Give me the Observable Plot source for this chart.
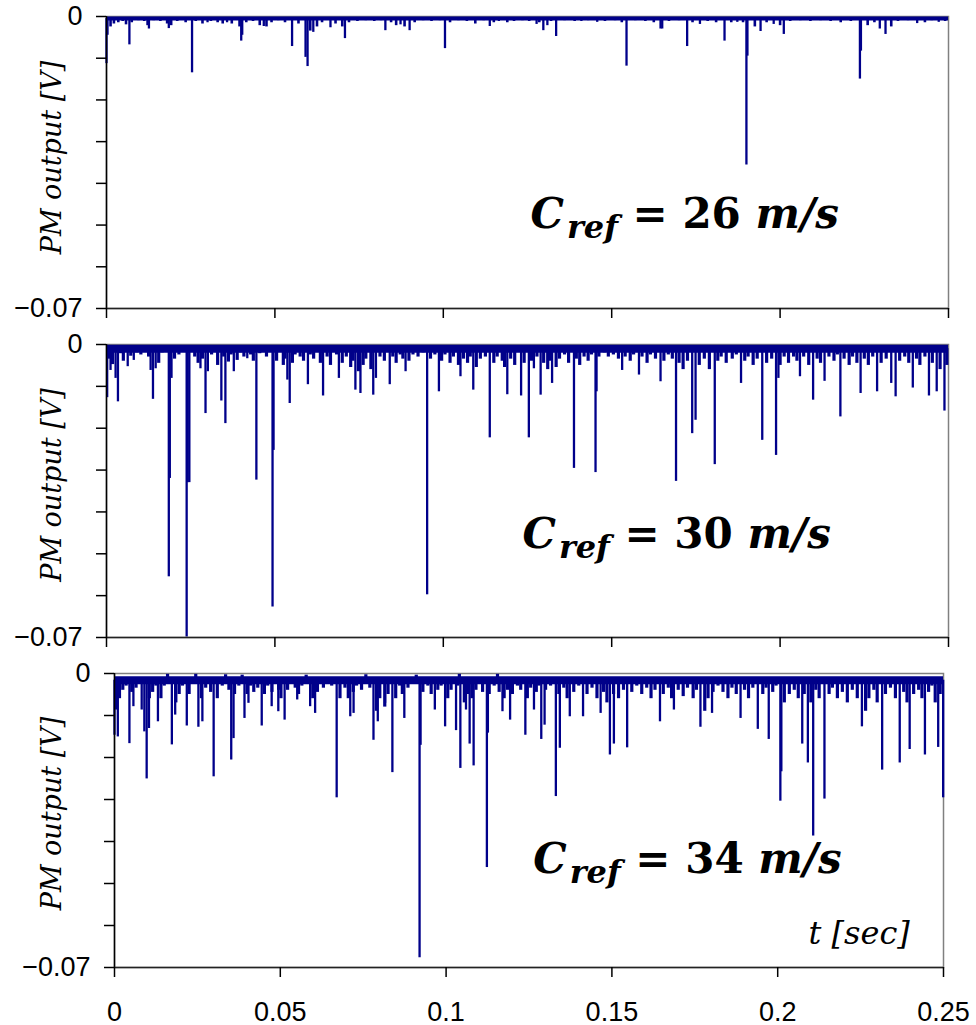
<!DOCTYPE html>
<html><head><meta charset="utf-8">
<script src="https://cdn.jsdelivr.net/npm/d3@7"></script>
<script src="https://cdn.jsdelivr.net/npm/@observablehq/plot@0.6"></script>
<style>
html,body{margin:0;padding:0;background:#fff;overflow:hidden;}
#wrap{position:relative;width:976px;height:1025px;}
#wrap > svg{position:absolute;left:0;overflow:visible;}
</style></head><body><div id="wrap"></div>
<script>
// ---------- data ----------
const xTicks = [0, 0.05, 0.1, 0.15, 0.2, 0.25];
const xTickLabels = ["0", "0.05", "0.1", "0.15", "0.2", "0.25"];
const yTicks = [0, -0.01, -0.02, -0.03, -0.04, -0.05, -0.06, -0.07];
const yTickLabels = ["0", "", "", "", "", "", "", "−0.07"];
const speeds = ["26", "30", "34"];
const yLabel = "PM output [V]";
const xLabel = "t [sec]";
const bandLevels = [-0.0005, -0.0010, -0.0016];
const annotAnchors = [{t: 0.1259, v: -0.0506}, {t: 0.1235, v: -0.0487}, {t: 0.1263, v: -0.0476}];
const xLabelAnchor = [{t: 0.2093, v: -0.0643}];

// C_ref = 26 m/s : [t, PM output]
const spikes26 = [
[0,-0.0113],[0.0003,-0.0045],[0.0068,-0.0068],[0.0126,-0.003],[0.0185,-0.0029],[0.0254,-0.0135],[0.030,-0.0015],[0.0358,-0.0015],
[0.0400,-0.0059],[0.0403,-0.0045],[0.0467,-0.0024],[0.0551,-0.0072],[0.0591,-0.0098],[0.0597,-0.012],[0.0614,-0.0038],[0.0665,-0.0027],
[0.0708,-0.0053],[0.0828,-0.0034],[0.0873,-0.002],[0.090,-0.0034],[0.1005,-0.0077],[0.1138,-0.0024],[0.1165,-0.0012],[0.1277,-0.0019],
[0.1297,-0.0034],[0.1309,-0.0022],[0.1335,-0.0048],[0.141,-0.0012],[0.1457,-0.0014],[0.1544,-0.0119],[0.1645,-0.003],[0.1650,-0.003],
[0.1724,-0.0072],[0.1762,-0.0019],[0.1835,-0.0059],[0.1873,-0.0014],[0.1900,-0.0356],[0.1903,-0.0095],[0.1942,-0.0036],[0.1981,-0.0019],
[0.2011,-0.0043],[0.2237,-0.015],[0.2240,-0.0083],[0.2296,-0.003],[0.2313,-0.0043],[0.2407,-0.0017],[0.2471,-0.0014]
];
const fuzz26 = [
[0.0012,-0.0025],[0.0022,-0.0018],[0.0035,-0.0015],[0.0048,-0.0012],[0.0058,-0.002],[0.0075,-0.0015],[0.0095,-0.001],[0.0112,-0.0012],
[0.0122,-0.0022],[0.0140,-0.001],[0.0160,-0.0012],[0.0180,-0.0018],[0.0192,-0.0022],[0.0210,-0.0012],[0.0235,-0.0015],[0.0265,-0.0012],
[0.0285,-0.0018],[0.0310,-0.0012],[0.0330,-0.0015],[0.0345,-0.0018],[0.0372,-0.0018],[0.0395,-0.0025],[0.0415,-0.0015],[0.0435,-0.0012],
[0.0455,-0.0022],[0.0475,-0.0025],[0.0490,-0.0015],[0.0510,-0.001],[0.0530,-0.0015],[0.0570,-0.0018],[0.0605,-0.0035],[0.0625,-0.0025],
[0.0640,-0.0015],[0.0680,-0.0018],[0.0700,-0.0025],[0.0720,-0.0015],[0.0745,-0.0012],[0.0770,-0.001],[0.0795,-0.0012],[0.0815,-0.001],
[0.0845,-0.0015],[0.0860,-0.0022],[0.0885,-0.0025],[0.0915,-0.0015],[0.0940,-0.001],[0.0965,-0.0012],[0.0990,-0.001],[0.1020,-0.0015],
[0.1045,-0.001],[0.1070,-0.0012],[0.1095,-0.0018],[0.1120,-0.001],[0.1150,-0.0015],[0.1190,-0.0015],[0.1210,-0.0012],[0.1235,-0.001],
[0.1255,-0.0012],[0.1285,-0.0015],[0.1320,-0.0012],[0.1360,-0.001],[0.1390,-0.0012],[0.1430,-0.001],[0.1480,-0.0012],[0.1510,-0.001],
[0.1530,-0.0015],[0.1570,-0.001],[0.1600,-0.0012],[0.1625,-0.0015],[0.1670,-0.0012],[0.1700,-0.001],[0.1740,-0.0015],[0.1785,-0.0012],
[0.1810,-0.0015],[0.1855,-0.0015],[0.1890,-0.0015],[0.1925,-0.0025],[0.1960,-0.0015],[0.2000,-0.0022],[0.2030,-0.0012],[0.2060,-0.001],
[0.2090,-0.0012],[0.2120,-0.001],[0.2150,-0.0012],[0.2180,-0.0015],[0.2210,-0.0012],[0.2260,-0.0022],[0.2280,-0.0015],[0.2330,-0.0025],
[0.2350,-0.0012],[0.2380,-0.001],[0.2430,-0.0015],[0.2450,-0.001],[0.2490,-0.0012]
];

// C_ref = 30 m/s
const spikes30 = [
[0.0002,-0.0127],[0.0012,-0.0062],[0.0027,-0.0081],[0.0034,-0.0137],[0.0063,-0.0053],[0.0081,-0.0038],[0.0131,-0.0062],[0.0138,-0.0131],
[0.0146,-0.0058],[0.0185,-0.0555],[0.0188,-0.0320],[0.0193,-0.0081],[0.0238,-0.0699],[0.0241,-0.0330],[0.0246,-0.0330],[0.0279,-0.0058],
[0.0294,-0.0165],[0.0301,-0.0065],[0.0341,-0.0135],[0.0353,-0.0189],[0.0378,-0.0065],[0.0418,-0.0034],[0.0445,-0.0324],[0.0493,-0.0627],
[0.0496,-0.0253],[0.0537,-0.0085],[0.0544,-0.0141],[0.0598,-0.0096],[0.0643,-0.0123],[0.0690,-0.0081],[0.0739,-0.0109],[0.0754,-0.0117],
[0.0792,-0.0121],[0.0800,-0.0081],[0.0841,-0.0096],[0.0888,-0.0065],[0.0952,-0.0598],[0.0987,-0.0113],[0.1051,-0.0077],[0.1089,-0.0109],
[0.1138,-0.0223],[0.1190,-0.0120],[0.1231,-0.0123],[0.1254,-0.0223],[0.1269,-0.0058],[0.1289,-0.0121],[0.1323,-0.0093],[0.1388,-0.0296],
[0.1452,-0.0306],[0.1455,-0.0113],[0.1531,-0.0062],[0.1581,-0.0073],[0.1645,-0.0089],[0.1691,-0.0327],[0.1739,-0.0213],[0.1749,-0.0181],
[0.1806,-0.0287],[0.1884,-0.0093],[0.1947,-0.0229],[0.1988,-0.0265],[0.1995,-0.0081],[0.2059,-0.0077],[0.2098,-0.0133],[0.2132,-0.0088],
[0.2179,-0.0173],[0.2239,-0.0117],[0.2288,-0.0113],[0.2330,-0.0093],[0.2343,-0.0125],[0.2394,-0.0104],[0.2442,-0.0123],[0.2465,-0.0113],
[0.2488,-0.0159]
];
const fuzz30 = [
[0.0007,-0.0035],[0.0018,-0.0048],[0.0042,-0.0022],[0.0050,-0.0040],[0.0072,-0.0028],[0.0090,-0.0020],[0.0102,-0.0025],[0.0112,-0.0018],
[0.0125,-0.0030],[0.0155,-0.0045],[0.0165,-0.0020],[0.0175,-0.0015],[0.0202,-0.0035],[0.0215,-0.0025],[0.0228,-0.0018],[0.0262,-0.0030],
[0.0272,-0.0045],[0.0285,-0.0035],[0.0312,-0.0025],[0.0330,-0.0050],[0.0348,-0.0030],[0.0362,-0.0042],[0.0370,-0.0025],[0.0388,-0.0038],
[0.0398,-0.0020],[0.0408,-0.0030],[0.0428,-0.0025],[0.0436,-0.0040],[0.0455,-0.0022],[0.0475,-0.0030],[0.0482,-0.0018],[0.0505,-0.0040],
[0.0525,-0.0050],[0.0530,-0.0035],[0.0552,-0.0045],[0.0560,-0.0025],[0.0575,-0.0030],[0.0585,-0.0040],[0.0605,-0.0025],[0.0615,-0.0035],
[0.0635,-0.0045],[0.0655,-0.0030],[0.0665,-0.0050],[0.0683,-0.0025],[0.0700,-0.0045],[0.0712,-0.0030],[0.0725,-0.0055],[0.0732,-0.0040],
[0.0748,-0.0065],[0.0762,-0.0050],[0.0770,-0.0035],[0.0785,-0.0060],[0.0812,-0.0030],[0.0825,-0.0040],[0.0850,-0.0030],[0.0860,-0.0045],
[0.0872,-0.0025],[0.0880,-0.0035],[0.0898,-0.0040],[0.0910,-0.0025],[0.0925,-0.0030],[0.0940,-0.0020],[0.0962,-0.0035],[0.0975,-0.0025],
[0.0995,-0.0040],[0.1005,-0.0025],[0.1020,-0.0045],[0.1030,-0.0030],[0.1045,-0.0050],[0.1060,-0.0035],[0.1072,-0.0045],[0.1080,-0.0030],
[0.1098,-0.0055],[0.1110,-0.0035],[0.1125,-0.0030],[0.1150,-0.0045],[0.1160,-0.0030],[0.1175,-0.0040],[0.1182,-0.0055],[0.1200,-0.0035],
[0.1212,-0.0050],[0.1240,-0.0045],[0.1262,-0.0040],[0.1278,-0.0030],[0.1298,-0.0045],[0.1310,-0.0060],[0.1315,-0.0040],[0.1335,-0.0055],
[0.1345,-0.0035],[0.1360,-0.0025],[0.1372,-0.0045],[0.1395,-0.0035],[0.1405,-0.0050],[0.1418,-0.0030],[0.1430,-0.0040],[0.1440,-0.0025],
[0.1462,-0.0030],[0.1478,-0.0020],[0.1490,-0.0030],[0.1505,-0.0025],[0.1520,-0.0035],[0.1540,-0.0030],[0.1555,-0.0040],[0.1565,-0.0025],
[0.1590,-0.0030],[0.1605,-0.0045],[0.1615,-0.0025],[0.1630,-0.0035],[0.1655,-0.0040],[0.1668,-0.0025],[0.1680,-0.0035],[0.1700,-0.0045],
[0.1712,-0.0060],[0.1725,-0.0040],[0.1760,-0.0050],[0.1775,-0.0035],[0.1790,-0.0060],[0.1815,-0.0040],[0.1825,-0.0030],[0.1840,-0.0045],
[0.1858,-0.0035],[0.1870,-0.0025],[0.1895,-0.0040],[0.1905,-0.0030],[0.1920,-0.0050],[0.1932,-0.0035],[0.1960,-0.0045],[0.1975,-0.0035],
[0.2000,-0.0050],[0.2012,-0.0030],[0.2025,-0.0045],[0.2040,-0.0030],[0.2050,-0.0040],[0.2070,-0.0030],[0.2085,-0.0050],[0.2110,-0.0035],
[0.2120,-0.0045],[0.2145,-0.0030],[0.2160,-0.0040],[0.2170,-0.0025],[0.2190,-0.0035],[0.2205,-0.0050],[0.2215,-0.0030],[0.2228,-0.0045],
[0.2250,-0.0035],[0.2262,-0.0050],[0.2275,-0.0030],[0.2300,-0.0045],[0.2315,-0.0035],[0.2355,-0.0040],[0.2370,-0.0030],[0.2382,-0.0045],
[0.2405,-0.0035],[0.2415,-0.0050],[0.2430,-0.0030],[0.2452,-0.0045],[0.2475,-0.0060],[0.2495,-0.0050]
];

// C_ref = 34 m/s
const spikes34 = [
[0.0000,-0.0147],[0.0004,-0.0087],[0.0010,-0.0151],[0.0045,-0.0167],[0.0057,-0.0079],[0.0082,-0.0087],[0.0090,-0.0139],[0.0097,-0.0251],
[0.0104,-0.0131],[0.0131,-0.0115],[0.0173,-0.0170],[0.0183,-0.0099],[0.0218,-0.0125],[0.0253,-0.0128],[0.0265,-0.0115],[0.0299,-0.0246],
[0.0352,-0.0206],[0.0359,-0.0155],[0.0392,-0.0107],[0.0404,-0.0071],[0.0444,-0.0125],[0.0474,-0.0079],[0.0494,-0.0091],[0.0513,-0.0111],
[0.0551,-0.0063],[0.0590,-0.0079],[0.0605,-0.0095],[0.0670,-0.0296],[0.0711,-0.0103],[0.0721,-0.0095],[0.0781,-0.0159],[0.0794,-0.0115],
[0.0816,-0.0071],[0.0838,-0.0236],[0.0874,-0.0107],[0.0920,-0.0677],[0.0923,-0.0171],[0.0966,-0.0087],[0.0997,-0.0127],[0.1030,-0.0136],
[0.1043,-0.0226],[0.1060,-0.0087],[0.1071,-0.0168],[0.1083,-0.0220],[0.1123,-0.0462],[0.1126,-0.0142],[0.1170,-0.0091],[0.1193,-0.0111],
[0.1239,-0.0147],[0.1265,-0.0087],[0.1287,-0.0157],[0.1297,-0.0123],[0.1331,-0.0293],[0.1343,-0.0178],[0.1373,-0.0103],[0.1413,-0.0103],
[0.1466,-0.0095],[0.1494,-0.0194],[0.1506,-0.0168],[0.1546,-0.0177],[0.1645,-0.0115],[0.1687,-0.0087],[0.1767,-0.0128],[0.1802,-0.0095],
[0.1888,-0.0107],[0.1940,-0.0133],[0.1973,-0.0157],[0.2008,-0.0304],[0.2011,-0.0234],[0.2074,-0.0168],[0.2091,-0.0213],[0.2107,-0.0387],
[0.2141,-0.0299],[0.2254,-0.0127],[0.2315,-0.0230],[0.2368,-0.0213],[0.2398,-0.0181],[0.2444,-0.0194],[0.2484,-0.0176],[0.2499,-0.0296]
];
const fuzz34 = [
[0.0015,-0.0060],[0.0025,-0.0040],[0.0035,-0.0030],[0.0052,-0.0045],[0.0065,-0.0035],[0.0075,-0.0020],[0.0105,-0.0060],[0.0115,-0.0045],
[0.0125,-0.0030],[0.0140,-0.0060],[0.0150,-0.0030],[0.0160,-0.0002],[0.0185,-0.0070],[0.0195,-0.0050],[0.0205,-0.0030],[0.0225,-0.0050],
[0.0235,-0.0025],[0.0245,-0.0002],[0.0262,-0.0060],[0.0275,-0.0035],[0.0290,-0.0045],[0.0310,-0.0060],[0.0325,-0.0030],[0.0335,-0.0003],
[0.0345,-0.0040],[0.0362,-0.0050],[0.0375,-0.0030],[0.0385,-0.0004],[0.0400,-0.0050],[0.0410,-0.0030],[0.0420,-0.0045],[0.0432,-0.0035],
[0.0452,-0.0050],[0.0462,-0.0030],[0.0475,-0.0045],[0.0485,-0.0025],[0.0495,-0.0040],[0.0502,-0.0060],[0.0522,-0.0040],[0.0535,-0.0025],
[0.0545,-0.0035],[0.0555,-0.0050],[0.0565,-0.0030],[0.0578,-0.0004],[0.0598,-0.0060],[0.0612,-0.0045],[0.0630,-0.0035],[0.0645,-0.0025],
[0.0655,-0.0030],[0.0680,-0.0060],[0.0695,-0.0035],[0.0705,-0.0060],[0.0720,-0.0045],[0.0730,-0.0030],[0.0745,-0.0040],[0.0758,-0.0003],
[0.0770,-0.0035],[0.0790,-0.0090],[0.0800,-0.0060],[0.0815,-0.0080],[0.0825,-0.0050],[0.0848,-0.0060],[0.0860,-0.0030],[0.0868,-0.0050],
[0.0885,-0.0035],[0.0898,-0.0025],[0.0910,-0.0004],[0.0930,-0.0045],[0.0945,-0.0030],[0.0955,-0.0050],[0.0975,-0.0040],[0.0985,-0.0030],
[0.1005,-0.0060],[0.1015,-0.0040],[0.1035,-0.0030],[0.1040,-0.0002],[0.1055,-0.0070],[0.1065,-0.0050],[0.1078,-0.0060],[0.1090,-0.0040],
[0.1110,-0.0045],[0.1130,-0.0050],[0.1145,-0.0030],[0.1155,-0.0002],[0.1160,-0.0045],[0.1175,-0.0060],[0.1185,-0.0040],[0.1200,-0.0050],
[0.1215,-0.0030],[0.1225,-0.0040],[0.1245,-0.0060],[0.1255,-0.0035],[0.1272,-0.0045],[0.1280,-0.0030],[0.1300,-0.0040],[0.1315,-0.0030],
[0.1340,-0.0050],[0.1355,-0.0035],[0.1365,-0.0060],[0.1385,-0.0045],[0.1400,-0.0030],[0.1425,-0.0050],[0.1440,-0.0035],[0.1455,-0.0060],
[0.1475,-0.0045],[0.1485,-0.0070],[0.1505,-0.0050],[0.1520,-0.0060],[0.1535,-0.0040],[0.1560,-0.0045],[0.1575,-0.0030],[0.1590,-0.0050],
[0.1605,-0.0035],[0.1618,-0.0060],[0.1630,-0.0040],[0.1655,-0.0050],[0.1670,-0.0035],[0.1680,-0.0060],[0.1700,-0.0040],[0.1715,-0.0055],
[0.1728,-0.0035],[0.1745,-0.0060],[0.1755,-0.0040],[0.1780,-0.0090],[0.1790,-0.0060],[0.1805,-0.0045],[0.1820,-0.0030],[0.1835,-0.0045],
[0.1850,-0.0060],[0.1862,-0.0035],[0.1875,-0.0050],[0.1900,-0.0040],[0.1912,-0.0060],[0.1925,-0.0035],[0.1955,-0.0050],[0.1965,-0.0035],
[0.1985,-0.0045],[0.1995,-0.0030],[0.2020,-0.0070],[0.2035,-0.0050],[0.2050,-0.0040],[0.2062,-0.0060],[0.2080,-0.0050],[0.2100,-0.0070],
[0.2115,-0.0040],[0.2125,-0.0060],[0.2155,-0.0050],[0.2165,-0.0035],[0.2180,-0.0060],[0.2195,-0.0045],[0.2210,-0.0070],[0.2225,-0.0040],
[0.2240,-0.0060],[0.2265,-0.0090],[0.2275,-0.0060],[0.2290,-0.0040],[0.2300,-0.0070],[0.2325,-0.0050],[0.2340,-0.0035],[0.2355,-0.0060],
[0.2380,-0.0045],[0.2390,-0.0070],[0.2410,-0.0050],[0.2425,-0.0040],[0.2435,-0.0060],[0.2455,-0.0045],[0.2465,-0.0030],[0.2475,-0.0070],
[0.2490,-0.0050]
];

// ---------- drawing ----------
const NAVY = "#00008a";
const panels = [
  {spikes: spikes26, fuzz: fuzz26, top: 0,   height: 330, mt: 16, mb: 22, ml: 106, mr: 28, showX: false, ldx: -54, ldy: -5, bw: 4, fw: 2.6},
  {spikes: spikes30, fuzz: fuzz30, top: 330, height: 330, mt: 14, mb: 23, ml: 106, mr: 28, showX: false, ldx: -54, ldy: -6, bw: 8, fw: 3.2},
  {spikes: spikes34, fuzz: fuzz34, top: 660, height: 365, mt: 13, mb: 58, ml: 114, mr: 33, showX: true,  ldx: -62, ldy: -7, bw: 8, fw: 3.2}
];

const wrap = document.getElementById("wrap");

panels.forEach((p, i) => {
  const band = bandLevels[i];
  const marks = [
    Plot.frame({stroke: "#808080", strokeWidth: 1.5}),
    Plot.ruleY([band], {stroke: NAVY, strokeWidth: p.bw}),
    Plot.ruleX(p.fuzz, {x: d => d[0], y1: band, y2: d => d[1], stroke: NAVY, strokeWidth: p.fw}),
    Plot.ruleX(p.spikes, {x: d => d[0], y1: band, y2: d => d[1], stroke: NAVY, strokeWidth: 2.3}),
    Plot.ruleX([0], {stroke: "#000", strokeWidth: 1.5}),
    Plot.ruleY([-0.07], {stroke: "#222", strokeWidth: 1.5}),
    Plot.axisY(yTicks, {tickSize: 10, tickPadding: 14, strokeWidth: 1.5, fontSize: 27, fontFamily: "Liberation Sans, Arial, sans-serif",
      tickFormat: d => yTickLabels[yTicks.indexOf(d)], label: null}),
    Plot.axisX(xTicks, {tickSize: 10, tickPadding: 24, strokeWidth: 1.5, fontSize: 27, fontFamily: "Liberation Sans, Arial, sans-serif",
      tickFormat: d => p.showX ? xTickLabels[xTicks.indexOf(d)] : "", label: null}),
    Plot.text([yLabel], {frameAnchor: "left", dx: p.ldx, dy: p.ldy, rotate: -90, textAnchor: "middle", lineAnchor: "middle",
      fontFamily: "DejaVu Serif", fontStyle: "italic", fontSize: 27, fill: "#000"}),
    Plot.text([annotAnchors[i]], {x: "t", y: "v", text: () => `C_ref = ${speeds[i]} m/s`, textAnchor: "start", lineAnchor: "bottom",
      fontFamily: "DejaVu Serif", fontWeight: "bold", fontSize: 42, fill: "#000"})
  ];
  if (p.showX) {
    marks.push(Plot.text(xLabelAnchor, {x: "t", y: "v", text: () => xLabel, textAnchor: "start", lineAnchor: "bottom",
      fontFamily: "DejaVu Serif", fontStyle: "italic", fontSize: 32, fill: "#000"}));
  }
  const chart = Plot.plot({
    width: 976, height: p.height,
    marginTop: p.mt, marginBottom: p.mb, marginLeft: p.ml, marginRight: p.mr,
    x: {domain: [0, 0.25]},
    y: {domain: [-0.07, 0]},
    style: {fontFamily: "Liberation Sans, Arial, sans-serif", background: "transparent", overflow: "visible"},
    marks
  });
  chart.style.top = p.top + "px";
  wrap.appendChild(chart);

  // rich math-like annotation: C with subscript "ref"
  chart.querySelectorAll("text").forEach(el => {
    const m = /^C_ref = (\d+) m\/s$/.exec(el.textContent);
    if (!m) return;
    el.removeAttribute("y"); el.removeAttribute("dy");
    el.textContent = "";
    const s = d3.select(el);
    s.append("tspan").attr("font-style", "italic").text("C");
    s.append("tspan").attr("font-style", "italic").attr("font-size", 32).attr("dx", 3).attr("dy", 10).text("ref");
    s.append("tspan").attr("dy", -10).text(" = ");
    s.append("tspan").text(m[1]);
    s.append("tspan").text(" ");
    s.append("tspan").attr("font-style", "italic").text("m/s");
  });
});
</script>
</body></html>
